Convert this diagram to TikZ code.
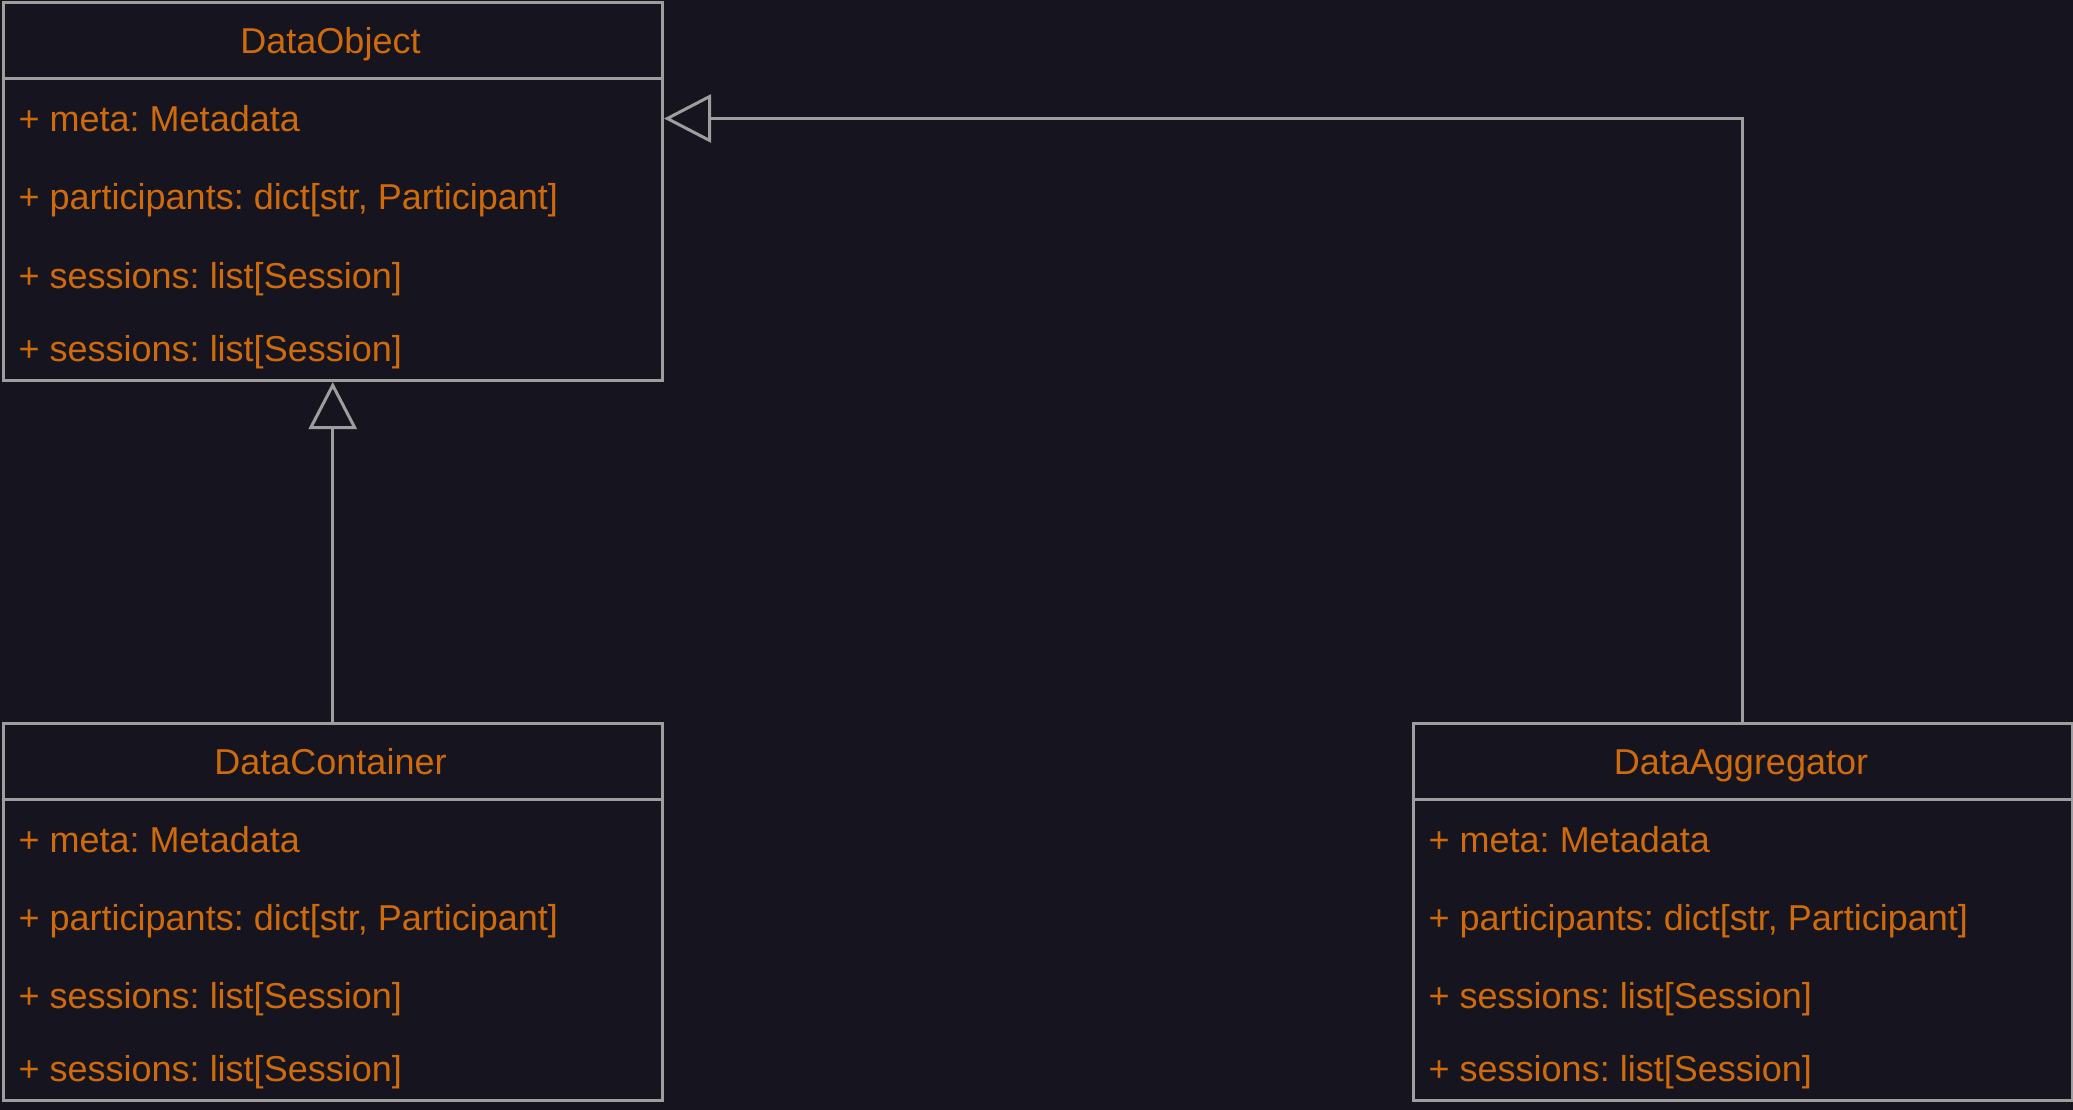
\documentclass[tikz,border=0pt]{standalone}
\usepackage{fontspec}
\setmainfont{Liberation Sans}
\usetikzlibrary{arrows.meta}
\definecolor{bgc}{HTML}{16141F}
\definecolor{linec}{HTML}{9E9E9E}
\definecolor{txtc}{HTML}{CF6B0C}
\frenchspacing
\tikzset{
  classbox/.style={draw=linec, line width=3pt, fill=bgc, rectangle, inner sep=0pt,
    minimum width=659.5pt, minimum height=377.5pt, anchor=north west},
  divider/.style={draw=linec, line width=3pt},
  attr/.style={text=txtc, anchor=base west, inner sep=0pt, font=\fontsize{36}{40}\selectfont},
  title/.style={text=txtc, anchor=base, inner sep=0pt, font=\fontsize{36}{40}\selectfont},
  inherit/.style={draw=linec, line width=3pt, -{Triangle[open, length=47pt, width=48pt, line width=3pt]}}
}
\begin{document}
\begin{tikzpicture}[x=1pt,y=-1pt]
\useasboundingbox[fill=bgc] (0,0) rectangle (2073,1110);

% DataObject
\node[classbox] (DO) at (1.5,1.5) {};
\draw[divider] (1.5,79) -- (661,79);
\node[title] (DOt) at (330.5,54) {DataObject};
\node[attr] (DO1) at (18.5,132) {+ meta: Metadata};
\node[attr] (DO2) at (18.5,210) {+ participants: dict[str, Participant]};
\node[attr] (DO3) at (18.5,288) {+ sessions: list[Session]};
\node[attr] (DO4) at (18.5,361) {+ sessions: list[Session]};

% DataContainer
\node[classbox] (DC) at (1.5,721.5) {};
\draw[divider] (1.5,799.5) -- (661,799.5);
\node[title] (DCt) at (330.5,774.5) {DataContainer};
\node[attr] (DC1) at (18.5,852.5) {+ meta: Metadata};
\node[attr] (DC2) at (18.5,930.5) {+ participants: dict[str, Participant]};
\node[attr] (DC3) at (18.5,1008.5) {+ sessions: list[Session]};
\node[attr] (DC4) at (18.5,1081.5) {+ sessions: list[Session]};

% DataAggregator
\node[classbox] (DA) at (1411.5,721.5) {};
\draw[divider] (1411.5,799.5) -- (2071,799.5);
\node[title] (DAt) at (1741,774.5) {DataAggregator};
\node[attr] (DA1) at (1428.5,852.5) {+ meta: Metadata};
\node[attr] (DA2) at (1428.5,930.5) {+ participants: dict[str, Participant]};
\node[attr] (DA3) at (1428.5,1008.5) {+ sessions: list[Session]};
\node[attr] (DA4) at (1428.5,1081.5) {+ sessions: list[Session]};

% Inheritance connectors
\draw[inherit] (DC.north) -- (DO.south);
\coordinate (elbow) at (DA.north |- 0,118.5);
\draw[inherit] (DA.north) -- (elbow) -- (DO.east |- elbow);
\end{tikzpicture}
\end{document}
